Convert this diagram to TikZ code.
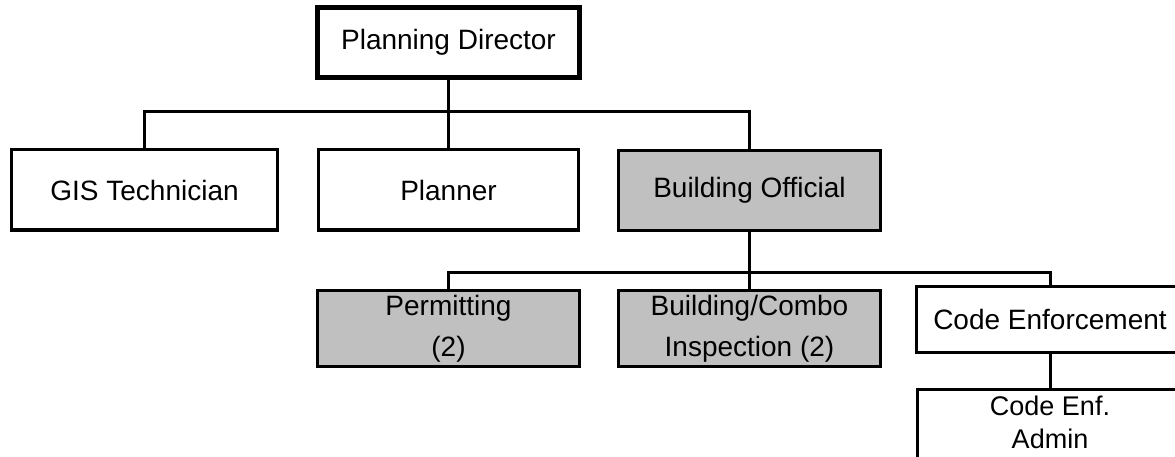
\documentclass[tikz,border=0pt]{standalone}
\usepackage{fontspec}
\setmainfont{Liberation Sans}
\usepackage{tikz}
\definecolor{boxgray}{HTML}{C0C0C0}

\begin{document}
\begin{tikzpicture}[x=1pt, y=-1pt, line width=3pt,
    box/.style={draw, rectangle, inner sep=0pt, align=center,
                minimum width=262pt, minimum height=80pt,
                font=\fontsize{28}{41}\selectfont},
    shaded/.style={box, fill=boxgray}]
    \useasboundingbox (0,0) rectangle (1175,457);

    \node[box, line width=5pt, minimum height=70pt] (pd) at (448.5,42.5) {Planning Director};
    \node[box, minimum width=266pt] (gis) at (144.5,190) {GIS Technician};
    \node[box, minimum width=260pt] (plan) at (448.5,190) {Planner};
    \node[shaded] (bo) at (749.5,190.5) {Building Official};

    \node[shaded, minimum height=76pt] (perm) at (448.5,328.5) {Permitting\\(2)};
    \node[shaded, minimum height=76pt] (combo) at (749.5,328.5) {Building/Combo\\Inspection (2)};
    \node[box, minimum width=267pt, minimum height=66pt] (ce) at (1050,319.5) {Code Enforcement};
    % box runs off the page at the bottom
    \node[box, minimum width=265pt, minimum height=85pt, text depth=20pt,
          font=\fontsize{27}{33}\selectfont] (cea) at (1050,432) {Code Enf.\\Admin};

    \coordinate (pdbus) at (448.5,112);
    \coordinate (bobus) at (749.5,272);

    \draw (pd) -- (pdbus);
    \draw (gis) |- (pdbus) -| (bo);
    \draw (pdbus) -- (plan);
    \draw (bo) -- (bobus);
    \draw (perm) |- (bobus) -| (ce);
    \draw (bobus) -- (combo);
    \draw (ce) -- (cea);
\end{tikzpicture}
\end{document}
